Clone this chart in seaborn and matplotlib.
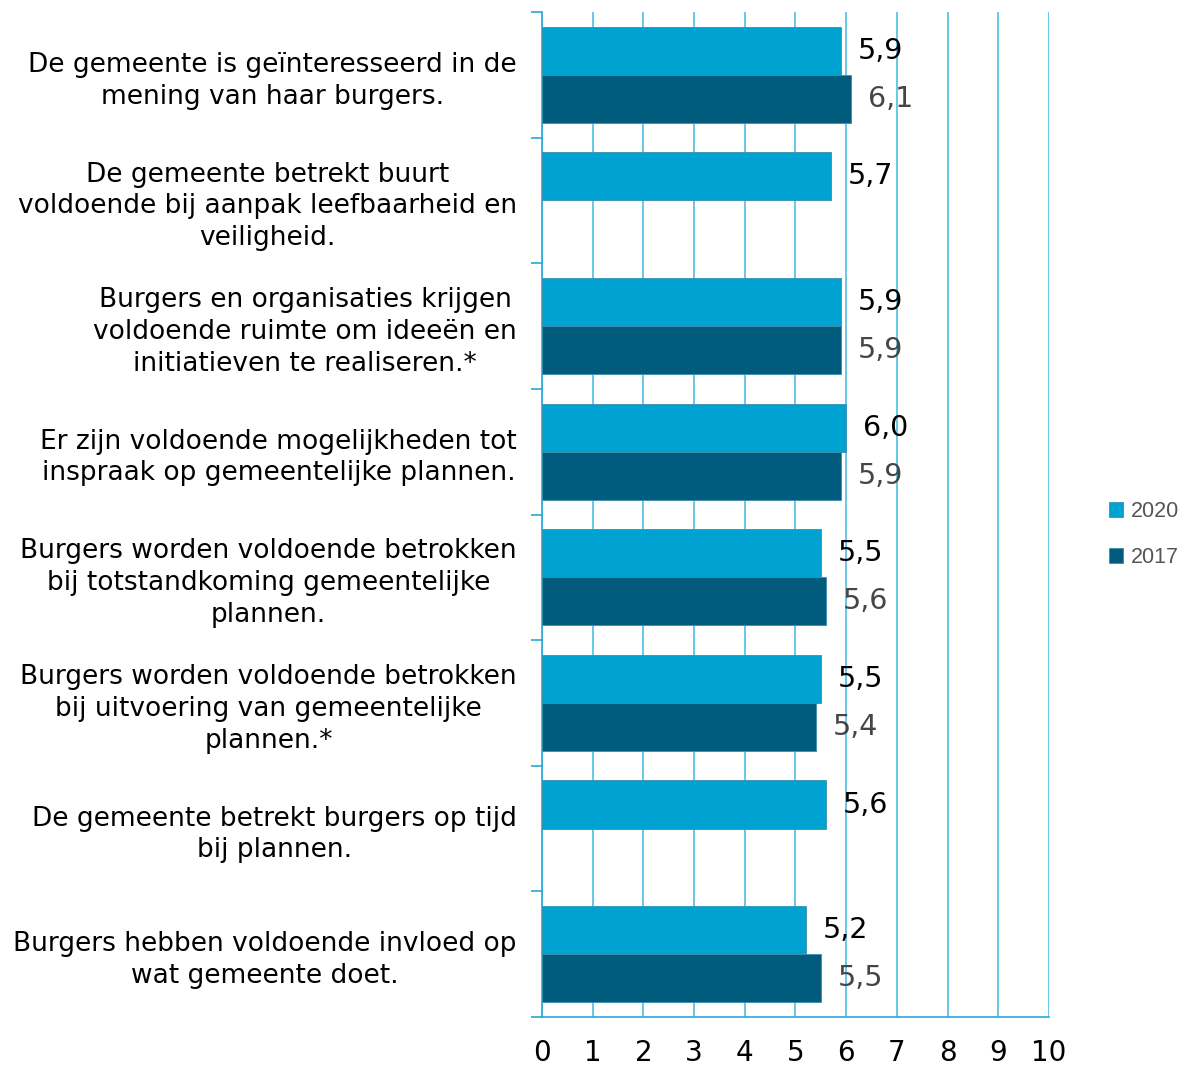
import numpy as np
import pandas as pd
import matplotlib
matplotlib.use("Agg")
import matplotlib.pyplot as plt
import seaborn as sns

categories = [
    "De gemeente is geïnteresseerd in de\nmening van haar burgers.",
    "De gemeente betrekt buurt\nvoldoende bij aanpak leefbaarheid en\nveiligheid.",
    "Burgers en organisaties krijgen\nvoldoende ruimte om ideeën en\ninitiatieven te realiseren.*",
    "Er zijn voldoende mogelijkheden tot\ninspraak op gemeentelijke plannen.",
    "Burgers worden voldoende betrokken\nbij totstandkoming gemeentelijke\nplannen.",
    "Burgers worden voldoende betrokken\nbij uitvoering van gemeentelijke\nplannen.*",
    "De gemeente betrekt burgers op tijd\nbij plannen.",
    "Burgers hebben voldoende invloed op\nwat gemeente doet.",
]
values_2020 = [5.9, 5.7, 5.9, 6.0, 5.5, 5.5, 5.6, 5.2]
values_2017 = [6.1, np.nan, 5.9, 5.9, 5.6, 5.4, np.nan, 5.5]
series = ["2020", "2017"]
x_ticks = [0, 1, 2, 3, 4, 5, 6, 7, 8, 9, 10]

df = pd.DataFrame({
    "categorie": categories * 2,
    "jaar": [series[0]] * len(categories) + [series[1]] * len(categories),
    "waarde": values_2020 + values_2017,
})

sns.set_theme(style="white")
plt.rcParams["font.family"] = ["DejaVu Sans"]

fig = plt.figure(figsize=(11.79, 10.65), dpi=100)
ax = fig.add_axes([0.4597, 0.0451, 0.4300, 0.9436])

colors = {"2020": "#00A2D1", "2017": "#005B7C"}
sns.barplot(data=df, y="categorie", x="waarde", hue="jaar", hue_order=series,
            order=categories, orient="h", palette=colors, width=0.765,
            ax=ax, legend=True, saturation=1, edgecolor="#3A8FB0", linewidth=0.6, zorder=3)

ax.set_xlim(0, 10)
ax.set_ylim(len(categories) - 0.5, -0.5)
ax.set_xticks(x_ticks)
ax.set_xticklabels([str(t) for t in x_ticks], fontsize=20, color="black")
ax.set_xlabel("")
ax.set_ylabel("")

grid_c = "#4FBDE3"
ax.grid(axis="x", color=grid_c, linewidth=1.2, zorder=0)
ax.set_axisbelow(True)
for s in ["top", "right"]:
    ax.spines[s].set_visible(False)
for s in ["left", "bottom"]:
    ax.spines[s].set_color("#2AA8D8")
    ax.spines[s].set_linewidth(1.2)

ax.tick_params(axis="x", which="major", length=8, width=1.2, color="#2AA8D8", pad=8, direction="out")
ax.tick_params(axis="y", which="major", length=0, pad=18)
ax.set_yticks(range(len(categories)))
ax.set_yticklabels(categories, fontsize=19, color="black", linespacing=1.29,
                   multialignment="center")
ax.set_yticks(np.arange(-0.5, len(categories) + 0.5, 1), minor=True)
ax.tick_params(axis="y", which="minor", length=8, width=1.2, color="#2AA8D8", left=True)

# value labels
for cont, lab_col in zip(ax.containers, ["black", "#454545"]):
    for bar in cont:
        w = bar.get_width()
        if np.isnan(w) or w == 0:
            continue
        yc = bar.get_y() + bar.get_height() / 2
        ax.text(w + 0.33, yc, f"{w:.1f}".replace(".", ","), va="center", ha="left",
                fontsize=20.5, color=lab_col, zorder=5)

leg = ax.legend(loc="center left", bbox_to_anchor=(1.08, 0.48), frameon=False,
                handlelength=0.65, handleheight=0.65, handletextpad=0.35,
                labelspacing=1.15, prop={"family": "Liberation Sans", "size": 15.5})
for t in leg.get_texts():
    t.set_color("#555555")

fig.savefig("out.png", dpi=100)
